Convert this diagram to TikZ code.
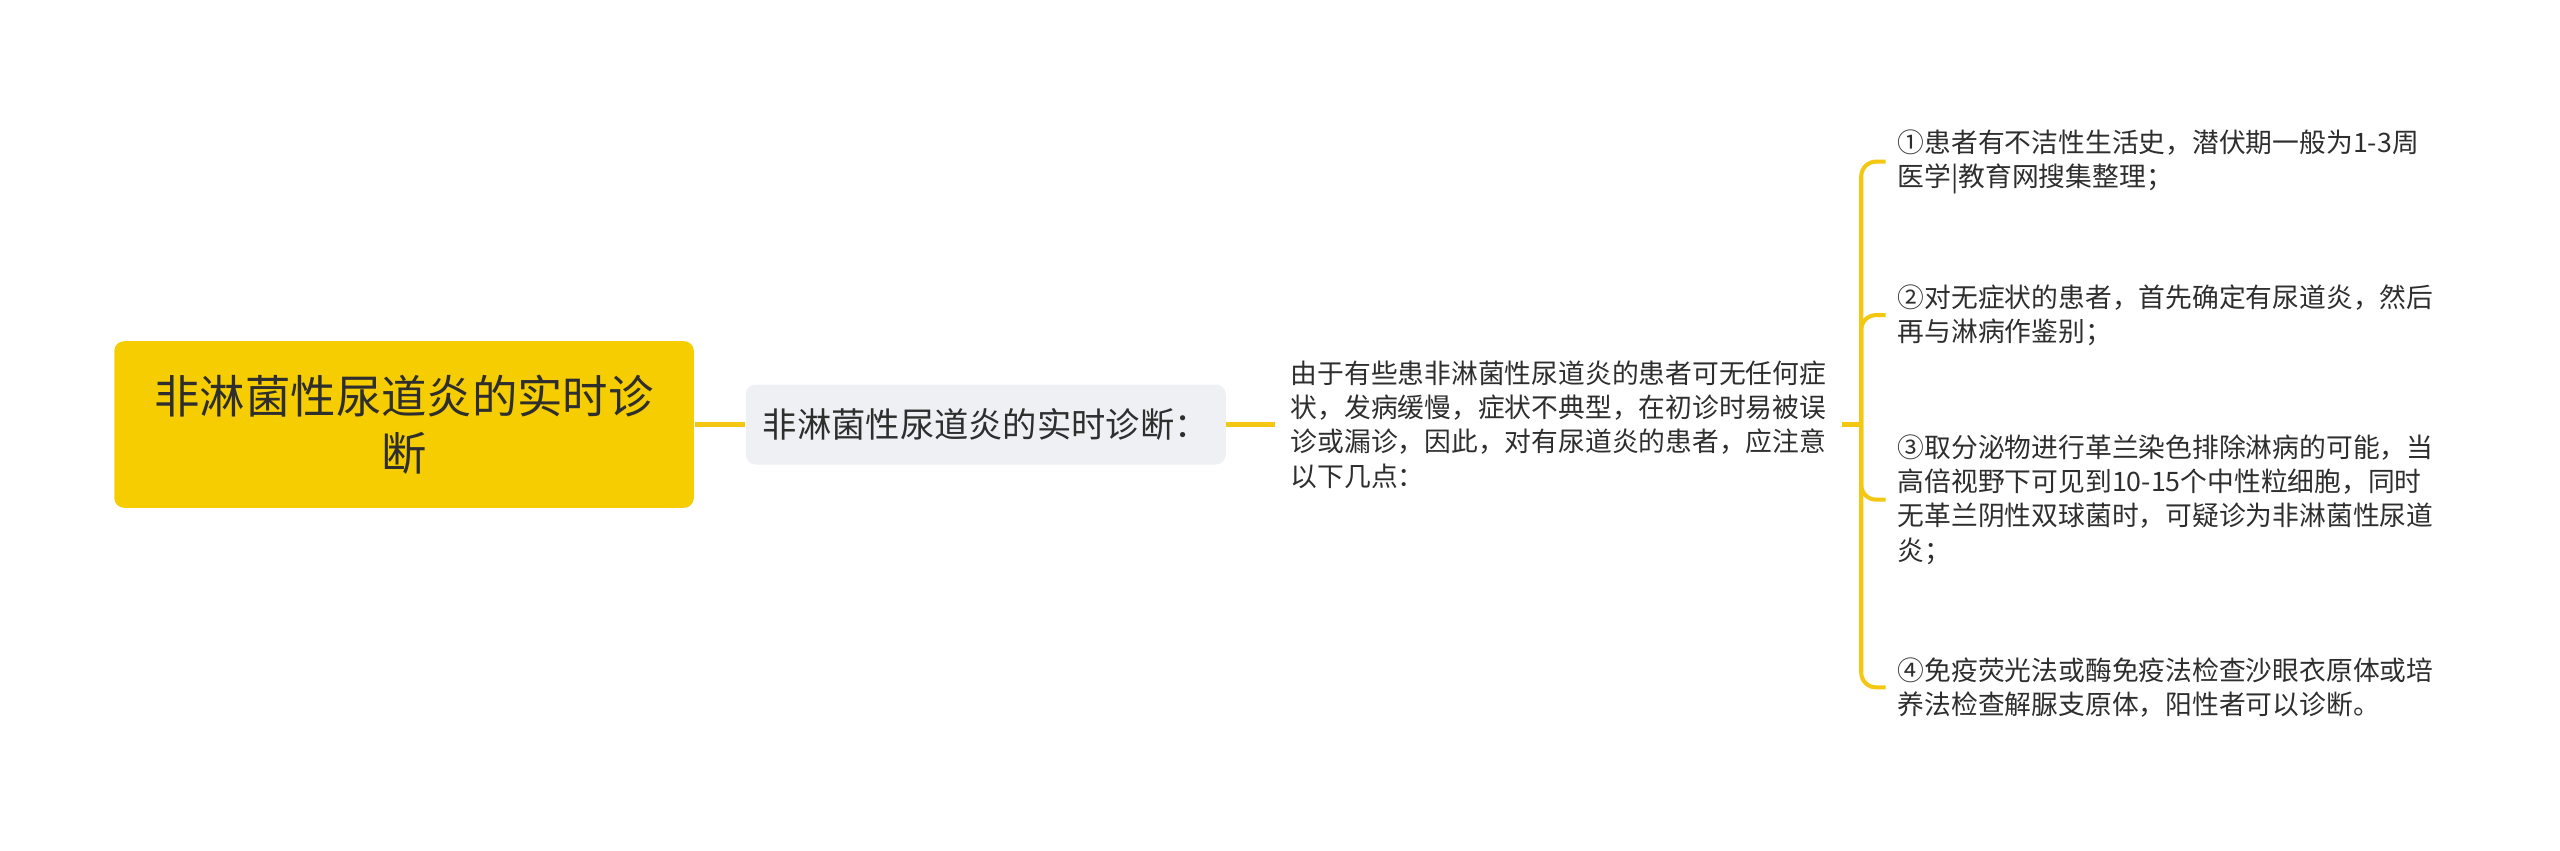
\documentclass[tikz,border=0pt]{standalone}
\usepackage{fontspec}
\setmainfont{Noto Sans CJK SC}
\usepackage{tikz}
\definecolor{gold}{HTML}{F5CD00}
\definecolor{goldline}{HTML}{F4C712}
\definecolor{mist}{HTML}{EEF0F3}
\definecolor{ink}{HTML}{2E2E2E}
\tikzset{
    rootbox/.style={rectangle,rounded corners=3pt,fill=gold,text=ink,align=center,minimum width=177.5pt,minimum height=51pt,font=\fontsize{13.9}{17.5}\selectfont},
    topic/.style={rectangle,rounded corners=3pt,fill=mist,text=ink,minimum width=147pt,minimum height=24.5pt,font=\fontsize{10.5}{12}\selectfont},
    note/.style={rectangle,align=left,inner xsep=4.5pt,text=ink,font=\fontsize{8.2}{10.5}\selectfont},
    leaf/.style={note,anchor=west,inner xsep=3.5pt},
    link/.style={draw=goldline,line width=1.25pt},
}
\usetikzlibrary{positioning}

\begin{document}
\begin{tikzpicture}[x=0.5pt,y=-0.5pt]
\useasboundingbox (0,0) rectangle (1568,521);
\node[rootbox] (root) at (247.5,260) {非淋菌性尿道炎的实时诊\\断};
\node[topic] (diag) [right=15.5pt of root] {非淋菌性尿道炎的实时诊断：} edge [link] (root);
\node[note] (why) [right=15pt of diag] {由于有些患非淋菌性尿道炎的患者可无任何症\\状，发病缓慢，症状不典型，在初诊时易被误\\诊或漏诊，因此，对有尿道炎的患者，应注意\\以下几点：} edge [link] (diag);
\coordinate (fork) at (1140,260);
\node[leaf] (p1) at (1155,99) {①患者有不洁性生活史，潜伏期一般为1-3周\\医学|教育网搜集整理；};
\node[leaf] (p2) at (1155,193) {②对无症状的患者，首先确定有尿道炎，然后\\再与淋病作鉴别；};
\node[leaf] (p3) at (1155,306) {③取分泌物进行革兰染色排除淋病的可能，当\\高倍视野下可见到10-15个中性粒细胞，同时\\无革兰阴性双球菌时，可疑诊为非淋菌性尿道\\炎；};
\node[leaf] (p4) at (1155,421) {④免疫荧光法或酶免疫法检查沙眼衣原体或培\\养法检查解脲支原体，阳性者可以诊断。};
\draw[link] (why.east) -- (fork);
\foreach \p in {p1,p2,p3,p4}
    \draw[link,rounded corners=4.5pt] (fork) |- (\p.west);
\end{tikzpicture}
\end{document}
